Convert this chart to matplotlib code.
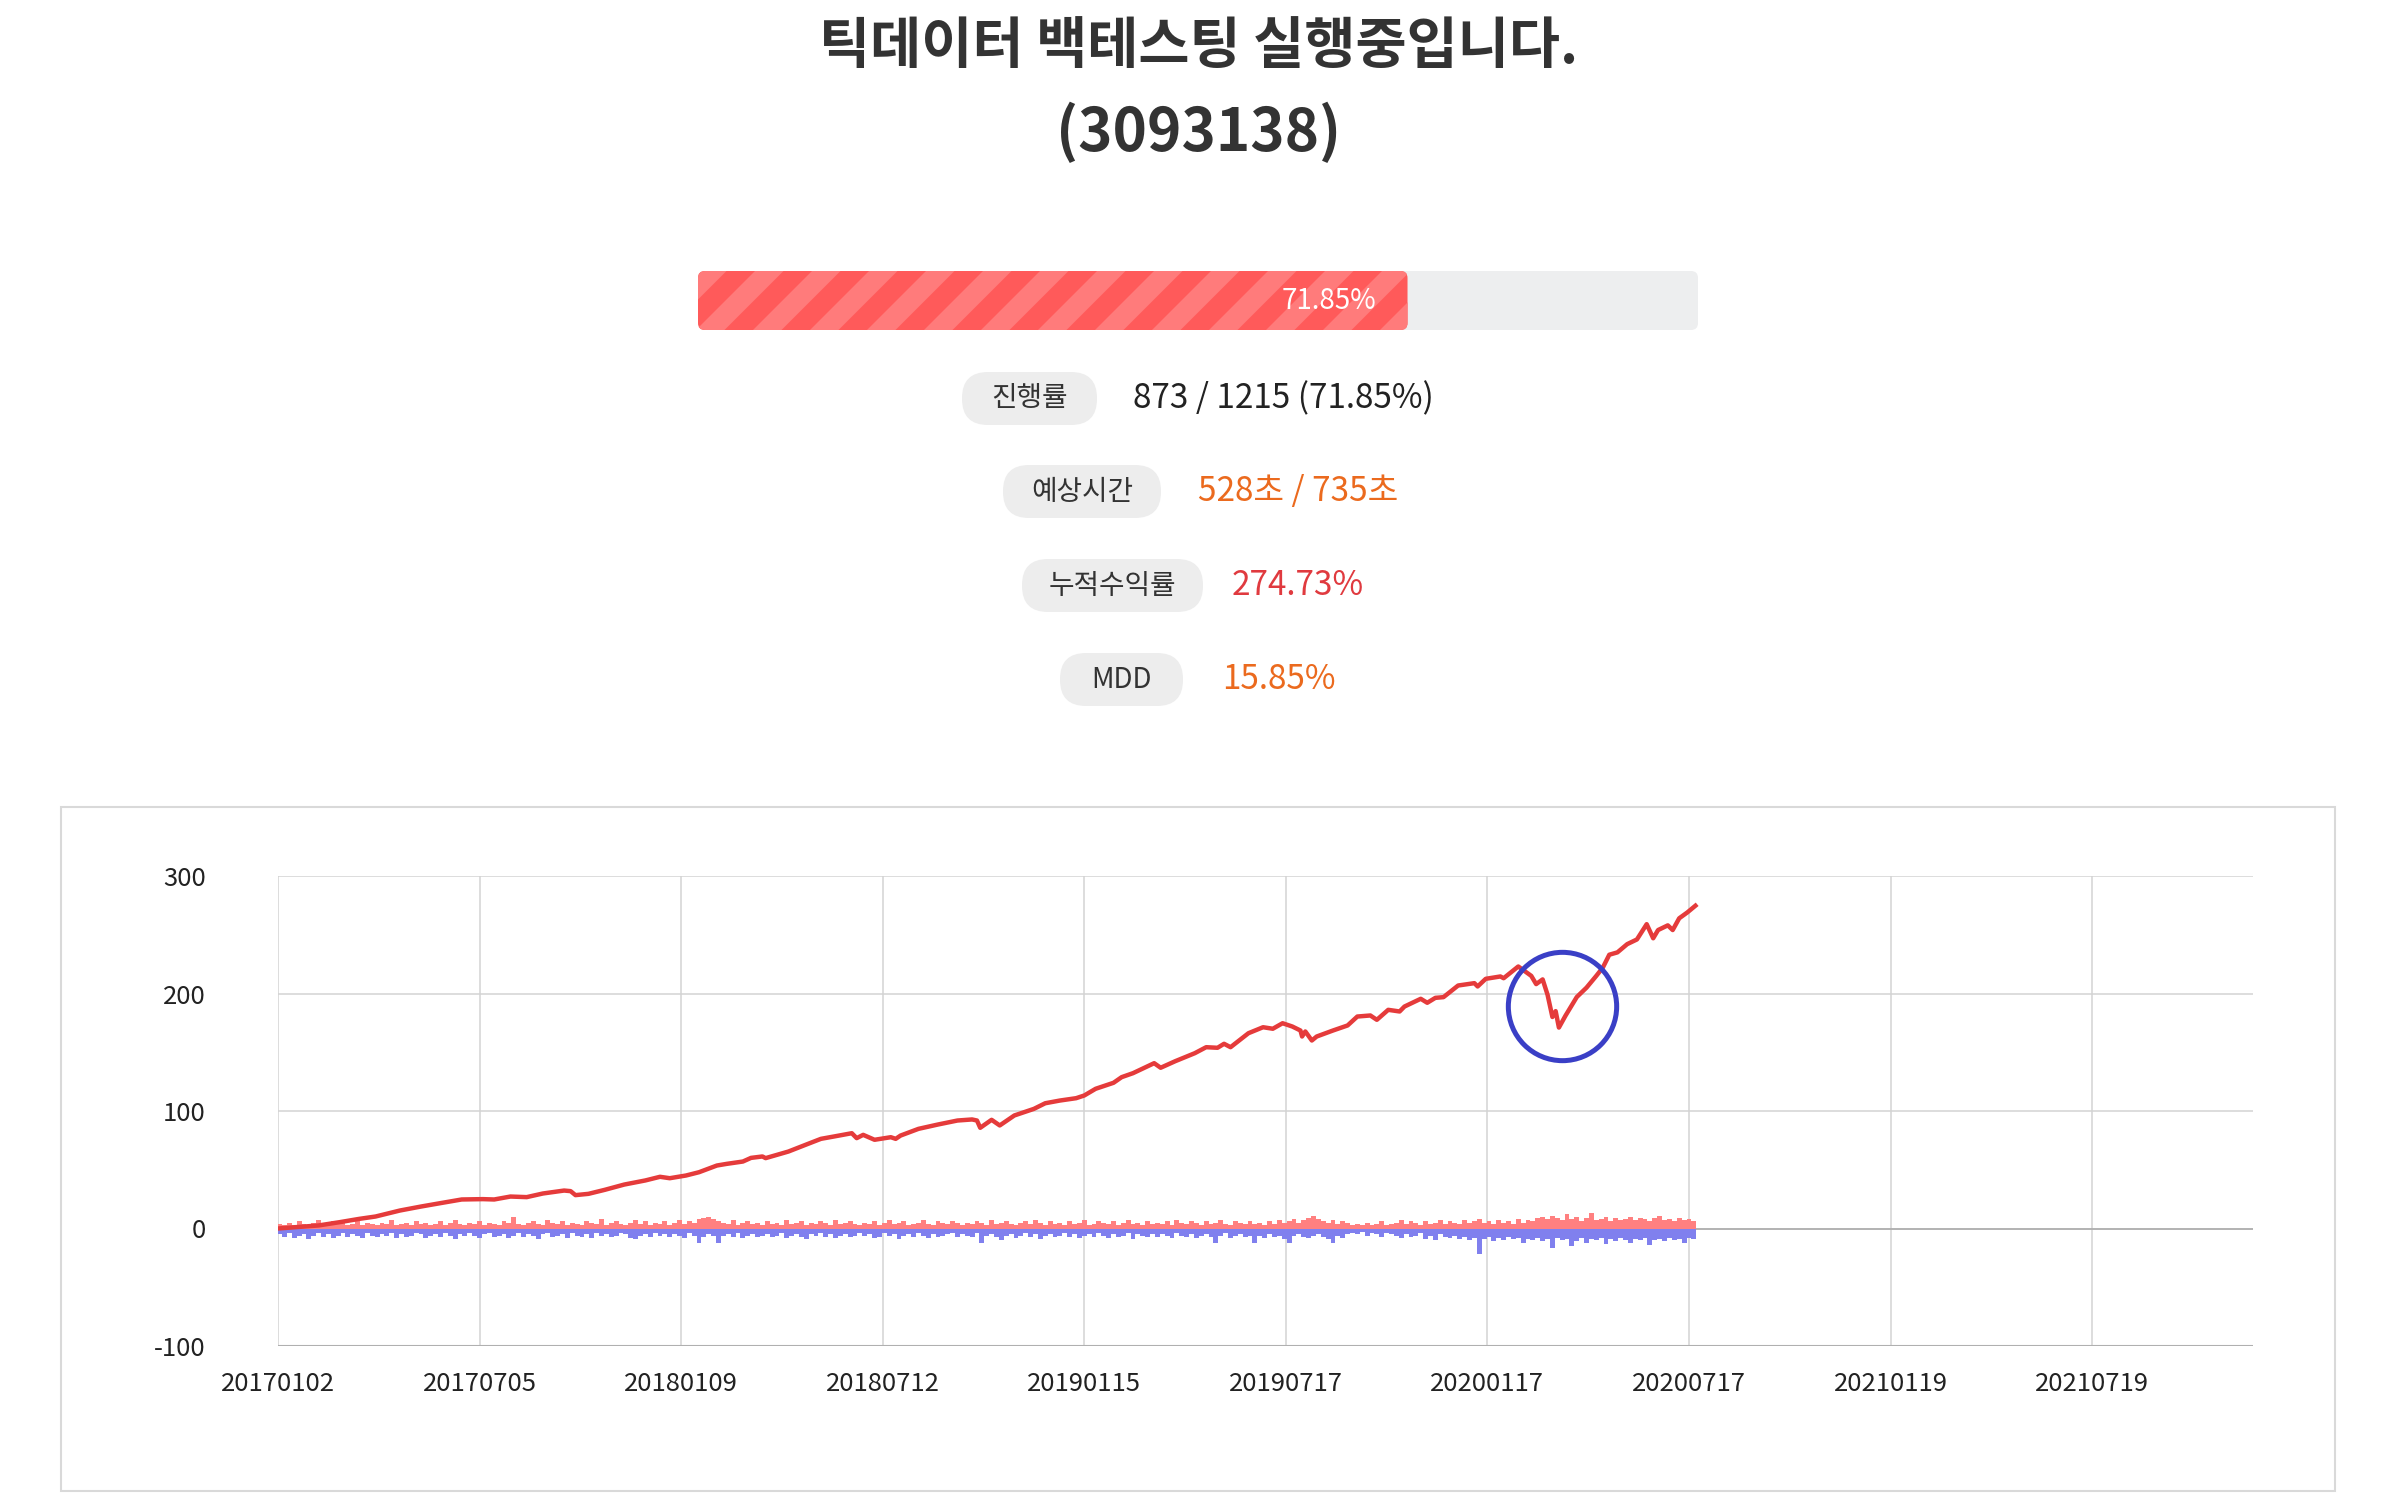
import numpy as np
import matplotlib
matplotlib.use("Agg")
import matplotlib.pyplot as plt
from matplotlib.patches import FancyBboxPatch, Polygon, Rectangle

plt.rcParams['font.family'] = ['Noto Sans CJK KR', 'DejaVu Sans']
plt.rcParams['axes.unicode_minus'] = False

W, H = 2398, 1494

# ---- data ----
title_lines = ["틱데이터 백테스팅 실행중입니다.", "(3093138)"]
done, total = 873, 1215
progress_text = "71.85%"
stat_labels = ["진행률", "예상시간", "누적수익률", "MDD"]
stat_values = ["873 / 1215 (71.85%)", "528초 / 735초", "274.73%", "15.85%"]

tick_labels = ["20170102", "20170705", "20180109", "20180712", "20190115",
               "20190717", "20200117", "20200717", "20210119", "20210719"]
tick_step = 124
n_days = 1215

# cumulative return (%), trading-day index -> value
line_idx = [0, 25, 38, 50, 60, 75, 88, 100, 113, 126, 133, 143, 153, 163, 176, 180,
            183, 191, 201, 213, 226, 235, 241, 251, 259, 270, 276, 286, 291, 298, 300,
            314, 326, 334, 342, 353, 356, 360, 367, 377, 380,
            383, 394, 406, 418, 427, 430, 432, 439, 444, 453, 465, 472, 481, 491, 496,
            503, 514, 519, 526, 539, 543, 552, 564, 571, 578, 582, 586, 597, 606, 612,
            618, 624, 629, 630, 632, 636, 639, 649, 658, 664, 672, 676, 683, 690, 693,
            703, 707, 712, 717, 726, 736, 738, 743, 752,
            754, 763, 768, 771, 774, 778, 781, 784, 786, 788, 792, 799, 805, 811, 815,
            819, 824, 830, 836, 842, 846, 849, 855, 858, 862, 867, 872]
line_val = [0, 2.6, 5.4, 8.2, 10.2, 15.3, 18.7, 21.6, 24.7, 25, 24.7, 27.2, 26.7, 29.8, 32.3, 31.8,
            28.4, 29.5, 32.9, 37.4, 40.9, 44, 42.8, 45.1, 47.9, 53.6, 55, 57, 60.1, 61.3, 59.9,
            65.5, 72, 76.3, 78.3, 81.1, 76.9, 79.7, 75.5, 77.7, 76.3,
            79.1, 84.8, 88.5, 91.9, 92.8, 91.9, 85.7, 92.5, 87.7, 96.2, 101.8, 106.6, 108.9, 110.9, 113.2,
            118.9, 124, 128.8, 132.2, 140.7, 136.8, 142.4, 149.2, 154.3, 153.8, 157.2, 154.3, 166.2, 171.3, 170,
            174.7, 171.9, 168.5, 163.4, 167.7, 160, 163.4, 168.5, 172.8, 180.4, 181.3, 177.6, 186.1, 184.7, 188.9,
            195.5, 192.1, 196.3, 196.9, 206.8, 208.8, 206, 212.5, 214.5,
            213, 223, 218, 215, 208, 212, 199, 180, 185, 171, 181, 197, 205, 215, 222,
            233, 235, 242, 246, 259, 247, 254, 258, 254, 264, 269, 274.73]

# daily gain / loss bars, one value per 3 trading days
bin_step = 3
gain = [4, 3, 5, 3, 6, 4, 3, 5, 7, 4, 3, 6, 4, 5, 3, 4, 6, 3, 5, 4,
        3, 5, 4, 7, 3, 4, 5, 3, 6, 4, 5, 3, 4, 6, 3, 5, 7, 4, 3, 5,
        4, 6, 3, 5, 4, 3, 6, 5, 10, 4, 3, 5, 6, 4, 3, 7, 5, 4, 6, 3,
        5, 4, 3, 6, 5, 4, 8, 3, 5, 6, 4, 3, 5, 7, 4, 6, 3, 5, 4, 6,
        3, 5, 7, 4, 6, 5, 8, 9, 10, 8, 6, 5, 4, 7, 3, 5, 6, 4, 5, 3,
        6, 4, 5, 3, 7, 4, 5, 6, 3, 5, 4, 6, 5, 3, 7, 4, 5, 6, 4, 3,
        5, 4, 6, 3, 5, 7, 4, 5, 6, 3, 4, 5, 7, 4, 3, 6, 5, 4, 6, 5,
        3, 5, 4, 6, 5, 3, 7, 4, 5, 6, 4, 3, 5, 6, 4, 7, 5, 3, 6, 4,
        5, 3, 6, 4, 5, 7, 3, 4, 6, 5, 4, 6, 3, 5, 7, 4, 5, 3, 6, 4,
        5, 4, 6, 3, 7, 5, 4, 6, 5, 3, 6, 4, 5, 7, 4, 3, 6, 5, 4, 6,
        4, 5, 3, 6, 4, 7, 5, 6, 8, 5, 7, 9, 11, 8, 6, 5, 7, 4, 6, 5,
        3, 4, 3, 5, 3, 4, 6, 3, 4, 5, 7, 4, 6, 5, 3, 6, 4, 5, 7, 4,
        6, 5, 4, 7, 5, 6, 8, 5, 6, 4, 7, 5, 6, 4, 8, 5, 7, 6, 9, 10,
        8, 11, 9, 7, 12, 8, 10, 6, 9, 13, 7, 8, 10, 6, 9, 7, 8, 10, 7, 9,
        8, 6, 9, 11, 7, 8, 6, 9, 7, 8, 6]
loss = [-5, -7, -4, -8, -6, -5, -9, -6, -4, -7, -5, -8, -6, -4, -7, -5, -6, -8, -4, -6,
        -7, -5, -6, -4, -8, -5, -7, -6, -4, -5, -8, -6, -5, -7, -4, -6, -9, -5, -6, -4,
        -6, -8, -5, -4, -7, -6, -5, -8, -6, -4, -7, -5, -6, -9, -5, -4, -7, -6, -5, -8,
        -4, -6, -7, -5, -8, -4, -6, -5, -7, -6, -4, -5, -8, -9, -6, -5, -7, -4, -6, -5,
        -7, -5, -6, -8, -4, -6, -12, -7, -5, -6, -12, -6, -5, -7, -4, -8, -6, -5, -7, -6,
        -5, -7, -6, -4, -8, -6, -5, -7, -9, -5, -6, -4, -7, -5, -8, -6, -5, -7, -6, -4,
        -6, -5, -8, -7, -4, -6, -5, -9, -6, -5, -7, -4, -6, -8, -5, -7, -6, -5, -4, -7,
        -5, -6, -7, -4, -12, -6, -5, -7, -10, -6, -5, -8, -6, -4, -7, -5, -9, -6, -5, -7,
        -6, -4, -7, -5, -8, -6, -5, -7, -4, -6, -8, -5, -7, -6, -4, -9, -5, -6, -7, -5,
        -7, -5, -6, -8, -4, -6, -7, -5, -8, -6, -5, -7, -12, -6, -4, -8, -6, -5, -7, -6,
        -12, -6, -8, -5, -7, -6, -9, -12, -6, -5, -7, -8, -6, -5, -7, -9, -12, -6, -8, -5,
        -4, -5, -3, -6, -4, -5, -7, -4, -5, -6, -8, -5, -7, -6, -4, -9, -6, -10, -5, -7,
        -8, -6, -9, -7, -10, -8, -22, -9, -7, -11, -8, -10, -7, -9, -8, -12, -9, -10, -8, -11,
        -9, -17, -8, -10, -9, -15, -11, -8, -12, -9, -10, -8, -13, -9, -11, -8, -10, -12, -9, -10,
        -8, -14, -10, -9, -11, -8, -10, -9, -12, -8, -9]

# highlighted drawdown (annotation circle)
mark_idx, mark_val = 790, 189

fig = plt.figure(figsize=(W / 100, H / 100), dpi=100)

# page overlay in pixel coords
bg = fig.add_axes([0, 0, 1, 1])
bg.set_xlim(0, W)
bg.set_ylim(H, 0)
bg.axis('off')

bg.text(W / 2, 47, title_lines[0], ha='center', va='center', fontsize=40,
        fontweight='bold', color='#333333')
bg.text(W / 2, 133, title_lines[1], ha='center', va='center', fontsize=42,
        fontweight='bold', color='#333333')

# progress bar
bx0, bx1, by0, by1 = 698, 1698, 271, 330
bh = by1 - by0
bg.add_patch(FancyBboxPatch((bx0, by0), bx1 - bx0, bh, boxstyle="round,pad=0,rounding_size=7",
                            fc='#EDEEEF', ec='none'))
fill_w = (bx1 - bx0) * done / total - 9
fill = FancyBboxPatch((bx0, by0), fill_w, bh, boxstyle="round,pad=0,rounding_size=7",
                      fc='#FF5A5A', ec='none')
bg.add_patch(fill)
period = 57
for t in np.arange(bx0 - period, bx0 + fill_w + bh + period, period):
    stripe = Polygon([(t, by0), (t + period / 2, by0), (t + period / 2 - bh, by1), (t - bh, by1)],
                     closed=True, fc='#FF7B7B', ec='none')
    bg.add_patch(stripe)
    stripe.set_clip_path(fill)
bg.text(bx0 + fill_w - 31, 301, progress_text, ha='right', va='center', fontsize=20,
        fontweight='light', color='white')

# stat pills
pill_x = [962, 1003, 1022, 1060]
pill_w = [135, 158, 181, 123]
pill_y = [372, 465, 559, 653]
pill_h = 53
value_x = [1133, 1198, 1232, 1222]
value_colors = ['#222222', '#EB6A1E', '#E03A3F', '#EB6A1E']
for i, lab in enumerate(stat_labels):
    bg.add_patch(FancyBboxPatch((pill_x[i], pill_y[i]), pill_w[i], pill_h,
                                boxstyle="round,pad=0,rounding_size=26", fc='#EDEDED', ec='none'))
    cy = pill_y[i] + pill_h / 2
    bg.text(pill_x[i] + pill_w[i] / 2, cy, lab, ha='center', va='center', fontsize=20, color='#333333')
    bg.text(value_x[i], cy, stat_values[i], ha='left', va='center', fontsize=24, color=value_colors[i])

# chart card
bg.add_patch(Rectangle((61, 807), 2274, 684, fc='none', ec='#D9D9D9', lw=1.5))

# ---- chart ----
ax = fig.add_axes([278 / W, 1 - 1346 / H, 1975 / W, 470 / H])
x_bins = np.arange(len(gain)) * bin_step + 1
ax.bar(x_bins, gain, width=bin_step, color='#FF8080', linewidth=0, zorder=2)
ax.bar(x_bins, loss, width=bin_step, color='#8080EE', linewidth=0, zorder=2)
ax.plot(line_idx, line_val, color='#E53B3B', lw=3.2, zorder=4, solid_joinstyle='round')
ax.plot([mark_idx], [mark_val], marker='o', ms=78, mfc='none', mec='#3A3FC6', mew=3.6, zorder=5)

ax.set_xlim(0, n_days)
ax.set_ylim(-100, 300)
ax.set_yticks([-100, 0, 100, 200, 300])
ax.set_xticks(np.arange(len(tick_labels)) * tick_step)
ax.set_xticklabels(tick_labels)
ax.grid(True, color='#D3D3D3', lw=1.1, zorder=0)
ax.set_axisbelow(True)
ax.axhline(0, color='#A8A8A8', lw=1.1, zorder=1)
ax.axhline(-100, color='#B0B0B0', lw=1.5, zorder=1)
for s in ax.spines.values():
    s.set_visible(False)
ax.tick_params(axis='both', length=0, labelsize=18.5, labelcolor='#222222')
ax.tick_params(axis='y', pad=52)
ax.tick_params(axis='x', pad=18)

fig.savefig("out.png", dpi=100)
